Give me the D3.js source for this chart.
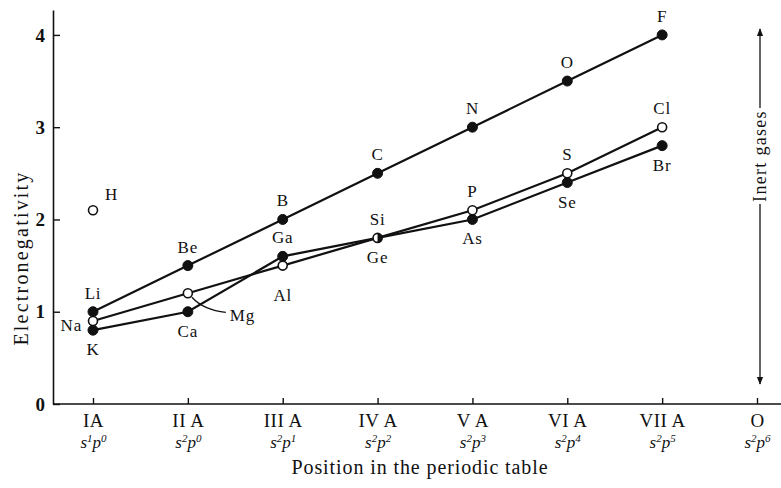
<!DOCTYPE html>
<html><head><meta charset="utf-8">
<script src="https://cdn.jsdelivr.net/npm/d3@7"></script>
<style>
body{margin:0;background:#fff;}
svg text{font-family:"Liberation Serif","Times New Roman",serif;fill:#111;}
</style></head>
<body><svg id="c" width="781" height="488"></svg>
<script>
// ---- data ----
const groups = ["IA","II A","III A","IV A","V A","VI A","VII A","O"];
const sOcc = [1,2,2,2,2,2,2,2];
const pOcc = [0,0,1,2,3,4,5,6];
const yTicks = [0,1,2,3,4];

const topNames  = ["Li","Be","B","C","N","O","F"];
const topValues = [1.0,1.5,2.0,2.5,3.0,3.5,4.0];
const midNames  = ["Na","Mg","Al","Si","P","S","Cl"];
const midValues = [0.9,1.2,1.5,1.8,2.1,2.5,3.0];
const lowNames  = ["K","Ca","Ga","Ge","As","Se","Br"];
const lowValues = [0.8,1.0,1.6,1.8,2.0,2.4,2.8];
const hName = "H", hValue = 2.1;

const topPlace = ["above","above","above","above","above","above","above"];
const midPlace = ["left","leader","below2","above","above","above","above"];
const lowPlace = ["below","below","above","below","below","below","below"];

// ---- drawing ----
const svg = d3.select("#c");
const x = d3.scalePoint().domain(groups).range([93, 757]);
const y = d3.scaleLinear().domain([0, 4.27]).range([404, 10]);
const font = 17;

// y axis
const yAxis = svg.append("g").attr("transform","translate(53,0)")
  .call(d3.axisLeft(y).tickValues(yTicks).tickSize(-7).tickSizeOuter(0).tickPadding(8).tickFormat(d3.format("d")));
yAxis.select(".domain").attr("stroke","#111").attr("stroke-width",1.6);
yAxis.selectAll(".tick line").attr("stroke","#111").attr("stroke-width",1.4);
yAxis.selectAll(".tick text").attr("font-size",19).attr("font-weight","bold").attr("fill","#111");

// x axis
svg.append("line").attr("x1",53).attr("x2",781).attr("y1",y(0)).attr("y2",y(0))
  .attr("stroke","#111").attr("stroke-width",1.6);
const xAxis = svg.append("g").attr("transform",`translate(0,${y(0)})`)
  .call(d3.axisBottom(x).tickSize(-6).tickSizeOuter(0).tickFormat(""));
xAxis.select(".domain").remove();
xAxis.selectAll(".tick line").attr("stroke","#111").attr("stroke-width",1.4);
xAxis.selectAll(".tick").each(function(d,i){
  const g = d3.select(this);
  g.append("text").attr("y",23).attr("text-anchor","middle").attr("font-size",19)
    .attr("letter-spacing",0.5).attr("fill","#111").text(d);
  const t = g.append("text").attr("y",44).attr("text-anchor","middle").attr("font-size",17)
    .attr("font-style","italic").attr("fill","#111");
  t.append("tspan").text("s");
  t.append("tspan").attr("font-size",11).attr("dy",-6).text(sOcc[i]);
  t.append("tspan").attr("dy",6).text("p");
  t.append("tspan").attr("font-size",11).attr("dy",-6).text(pOcc[i]);
});

// axis titles
svg.append("text").attr("x",420).attr("y",474).attr("text-anchor","middle").attr("font-size",20)
  .attr("letter-spacing",0.9).text("Position in the periodic table");
svg.append("text").attr("transform","translate(28,258) rotate(-90)").attr("text-anchor","middle")
  .attr("font-size",20).attr("letter-spacing",2.2).text("Electronegativity");

// series
function series(names, values){ return names.map((n,i)=>({name:n, v:values[i], g:groups[i]})); }
const topS = series(topNames, topValues);
const midS = series(midNames, midValues);
const lowS = series(lowNames, lowValues);
const line = d3.line().x(d=>x(d.g)).y(d=>y(d.v));
[topS, midS, lowS].forEach(s=>{
  svg.append("path").datum(s).attr("d",line).attr("fill","none").attr("stroke","#111").attr("stroke-width",2.2);
});

const r = 5;
function dots(s, open){
  svg.append("g").selectAll("circle").data(s).join("circle")
    .attr("cx",d=>x(d.g)).attr("cy",d=>y(d.v)).attr("r",open? r-0.5 : r)
    .attr("fill",open?"#fff":"#111").attr("stroke","#111").attr("stroke-width",open?1.6:1);
}
dots(topS,false);
// filled points that coincide with open ones become half-filled
const lowOnly = lowS.filter((d,i)=>d.v !== midS[i].v);
const lowShared = lowS.filter((d,i)=>d.v === midS[i].v);
dots(lowOnly,false);
dots(midS,true);
svg.append("g").selectAll("path").data(lowShared).join("path")
  .attr("d",d=>{const cx=x(d.g), cy=y(d.v); return `M${cx},${cy-r} A${r},${r} 0 0 1 ${cx},${cy+r} Z`;})
  .attr("fill","#111");

// hydrogen
svg.append("circle").attr("cx",x(groups[0])).attr("cy",y(hValue)).attr("r",r-0.5)
  .attr("fill","#fff").attr("stroke","#111").attr("stroke-width",1.6);
svg.append("text").attr("x",x(groups[0])+12).attr("y",y(hValue)-10).attr("font-size",font)
  .attr("letter-spacing",0.5).text(hName);

// labels
function labels(s, place){
  s.forEach((d,i)=>{
    const cx = x(d.g), cy = y(d.v);
    let tx = cx, ty = cy, anchor = "middle";
    switch(place[i]){
      case "above": ty = cy - 13; break;
      case "below": ty = cy + 25; break;
      case "below2": ty = cy + 35; break;
      case "left": tx = cx - 11; ty = cy + 10; anchor = "end"; break;
      case "leader":
        svg.append("path").attr("d",`M${cx+4},${cy+4} Q${cx+16},${cy+17} ${cx+38},${cy+19}`)
          .attr("fill","none").attr("stroke","#111").attr("stroke-width",1.3);
        tx = cx + 42; ty = cy + 28; anchor = "start"; break;
    }
    svg.append("text").attr("x",tx).attr("y",ty).attr("text-anchor",anchor).attr("font-size",font)
      .attr("letter-spacing",0.8).text(d.name);
  });
}
labels(topS, topPlace);
labels(midS, midPlace);
labels(lowS, lowPlace);

// inert gases arrow
const ax = x(groups[7]) + 3;
const defs = svg.append("defs");
defs.append("marker").attr("id","ah").attr("viewBox","0 0 10 10").attr("refX",9).attr("refY",5)
  .attr("markerWidth",6).attr("markerHeight",8).attr("orient","auto-start-reverse")
  .append("path").attr("d","M0,1 L10,5 L0,9 Z").attr("fill","#111");
svg.append("line").attr("x1",ax).attr("x2",ax).attr("y1",108).attr("y2",29)
  .attr("stroke","#111").attr("stroke-width",1.3).attr("marker-end","url(#ah)");
svg.append("line").attr("x1",ax).attr("x2",ax).attr("y1",204).attr("y2",384)
  .attr("stroke","#111").attr("stroke-width",1.3).attr("marker-end","url(#ah)");
svg.append("text").attr("transform",`translate(${ax+6},156) rotate(-90)`).attr("text-anchor","middle")
  .attr("font-size",18).attr("letter-spacing",1.3).text("Inert gases");
</script></body></html>
